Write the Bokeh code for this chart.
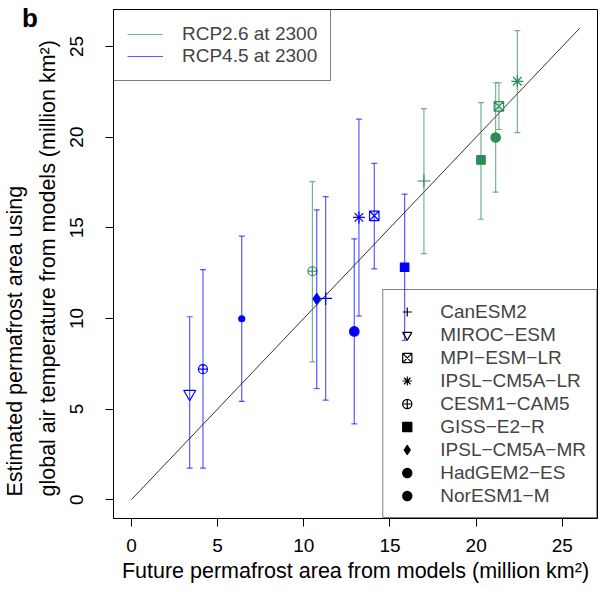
from bokeh.plotting import figure
from bokeh.models import (Range1d, FixedTicker, Legend, LegendItem, Title,
                          ColumnDataSource, Div)
from bokeh.layouts import column
from bokeh.embed import file_html
from bokeh.resources import INLINE

# ---------------- data ----------------
rcp26_model = ["CanESM2", "MPI−ESM−LR", "IPSL−CM5A−LR", "CESM1−CAM5",
               "GISS−E2−R", "HadGEM2−ES"]
rcp26_x = [16.97, 21.32, 22.39, 10.50, 20.28, 21.13]
rcp26_y = [17.58, 21.70, 23.08, 12.60, 18.74, 19.98]
rcp26_lo = [13.57, 20.42, 20.25, 7.60, 15.47, 16.96]
rcp26_hi = [21.57, 23.00, 25.88, 17.54, 21.90, 23.00]

rcp45_model = ["CanESM2", "MIROC−ESM", "MPI−ESM−LR", "IPSL−CM5A−LR",
               "CESM1−CAM5", "GISS−E2−R", "IPSL−CM5A−MR", "HadGEM2−ES",
               "NorESM1−M"]
rcp45_x = [11.27, 3.38, 14.09, 13.20, 4.15, 15.85, 10.75, 12.93, 6.40]
rcp45_y = [11.10, 5.84, 15.66, 15.57, 7.20, 12.82, 11.08, 9.28, 9.98]
rcp45_lo = [5.49, 1.74, 12.73, 10.13, 1.74, 8.79, 6.13, 4.18, 5.42]
rcp45_hi = [16.72, 10.09, 18.55, 20.99, 12.69, 16.85, 15.99, 14.39, 14.54]

legend_models = ["CanESM2", "MIROC−ESM", "MPI−ESM−LR", "IPSL−CM5A−LR",
                 "CESM1−CAM5", "GISS−E2−R", "IPSL−CM5A−MR", "HadGEM2−ES",
                 "NorESM1−M"]
series_labels = ["RCP2.6 at 2300", "RCP4.5 at 2300"]
one_to_one = [0, 26]
axis_ticks = [0, 5, 10, 15, 20, 25]
x_title = "Future permafrost area from models (million km²)"
y_title_1 = "Estimated permafrost area using"
y_title_2 = "global air temperature from models (million km²)"
panel_letter = "b"

# ---------------- styles ----------------
FONT = "Liberation Sans"
FS = "19px"
FS_TITLE = "21.5px"
GREEN = "#2e8b57"
BLUE = "#0000ff"
marker_style = {  # marker, size, filled
    "CanESM2": ("cross", 13, False),
    "MIROC−ESM": ("inverted_triangle", 12, False),
    "MPI−ESM−LR": ("square_x", 9.5, False),
    "IPSL−CM5A−LR": ("asterisk", 12, False),
    "CESM1−CAM5": ("circle_cross", 9, False),
    "GISS−E2−R": ("square", 8.5, True),
    "IPSL−CM5A−MR": ("diamond", 11, True),
    "HadGEM2−ES": ("circle", 9.5, True),
    "NorESM1−M": ("circle", 6, True),
}

p = figure(width=598, height=590,
           x_range=Range1d(-1.04, 27.04), y_range=Range1d(-1.04, 27.04),
           output_backend="svg", toolbar_location=None,
           min_border_left=113, min_border_right=1, min_border_top=9,
           min_border_bottom=72)
p.grid.visible = False
p.outline_line_color = "black"
p.outline_line_width = 1
p.background_fill_color = "white"
p.border_fill_color = "white"

for ax in (p.xaxis, p.yaxis):
    ax.ticker = FixedTicker(ticks=axis_ticks)
    ax.major_tick_out = 8
    ax.major_tick_in = 0
    ax.minor_tick_line_color = None
    ax.axis_line_color = "black"
    ax.major_tick_line_color = "black"
    ax.major_label_text_font = FONT
    ax.major_label_text_font_size = FS
    ax.major_label_text_color = "black"
    ax.axis_label_text_font = FONT
    ax.axis_label_text_font_size = FS_TITLE
    ax.axis_label_text_font_style = "normal"
    ax.axis_label_text_color = "black"

p.xaxis.major_label_standoff = 12
p.xaxis.axis_label = x_title
p.xaxis.axis_label_standoff = 4
p.yaxis.major_label_orientation = "vertical"
p.yaxis.major_label_standoff = 22

# y-axis title as two left-aligned lines (inner line first)
for txt, so in ((y_title_2, 15), (y_title_1, 0)):
    p.add_layout(Title(text=txt, align="left", offset=22, standoff=so,
                       text_font=FONT, text_font_size=FS_TITLE,
                       text_font_style="normal", text_color="black"), "left")

# 1:1 line
p.line(x=one_to_one, y=one_to_one, line_color="#333333", line_width=1)


def add_series(models, xs, ys, los, his, color):
    src = ColumnDataSource(dict(
        x=xs, y=ys, lo=los, hi=his, model=models,
        marker=[marker_style[m][0] for m in models],
        size=[marker_style[m][1] for m in models],
        fa=[1.0 if marker_style[m][2] else 0.0 for m in models],
    ))
    bars = p.segment(x0="x", y0="lo", x1="x", y1="hi", source=src,
                     line_color=color, line_alpha=0.65, line_width=1.2)
    for end in ("lo", "hi"):
        p.scatter(x="x", y=end, marker="dash", size=6, source=src,
                  line_color=color, line_alpha=0.65, line_width=1.2)
    p.scatter(x="x", y="y", marker="marker", size="size", source=src,
              line_color=color, fill_color=color, fill_alpha="fa",
              line_width=1.2)
    return bars


bars26 = add_series(rcp26_model, rcp26_x, rcp26_y, rcp26_lo, rcp26_hi, GREEN)
bars45 = add_series(rcp45_model, rcp45_x, rcp45_y, rcp45_lo, rcp45_hi, BLUE)

# legend of scenarios (top-left)
leg1 = Legend(items=[LegendItem(label=series_labels[0], renderers=[bars26]),
                     LegendItem(label=series_labels[1], renderers=[bars45])],
              location="top_left", margin=0, padding=13, spacing=0,
              glyph_width=36, glyph_height=22, label_height=22,
              label_standoff=19, border_line_color="black",
              border_line_width=1, background_fill_alpha=0,
              label_text_font=FONT, label_text_font_size=FS)
p.add_layout(leg1)

# legend of models (bottom-right), black symbols
items = []
for m in legend_models:
    mk, sz, filled = marker_style[m]
    i = rcp45_model.index(m)
    r = p.scatter(x=[rcp45_x[i]], y=[rcp45_y[i]], marker=mk, size=sz,
                  line_color="black", fill_color="black",
                  fill_alpha=1.0 if filled else 0.0, line_width=1.2)
    r.visible = False
    items.append(LegendItem(label=m, renderers=[r]))
leg2 = Legend(items=items, location="bottom_right", margin=0, padding=10,
              spacing=0, glyph_width=27, glyph_height=23, label_height=23,
              label_standoff=20, border_line_color="black",
              border_line_width=1, background_fill_alpha=0,
              label_text_font=FONT, label_text_font_size=FS)
p.add_layout(leg2)

# panel letter, overlaid at the top-left corner of the page
letter = Div(text=panel_letter, styles={
    "position": "absolute", "left": "17px", "top": "-5px",
    "font-family": FONT, "font-size": "26px", "font-weight": "bold",
    "color": "black", "z-index": "10"})

layout = column(letter, p)
open("out.html", "w").write(file_html(layout, INLINE))
